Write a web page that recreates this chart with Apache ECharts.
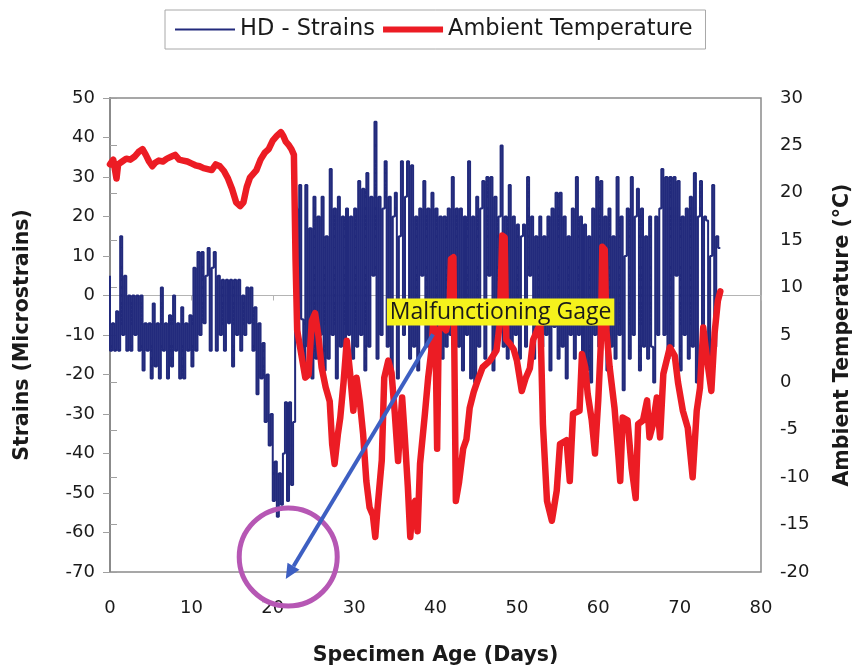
<!DOCTYPE html>
<html>
<head>
<meta charset="utf-8">
<script src="https://cdn.jsdelivr.net/npm/echarts@6/dist/echarts.min.js"></script>
<style>
  html, body { margin: 0; padding: 0; background: #fff; }
  #chart { width: 857px; height: 669px; }
</style>
</head>
<body>
<div id="chart"></div>
<script>
// HD strain gauge: one reading every 6 hours, starting at day 0 (microstrains)
const strainStartDay = 0;
const strainStepDays = 0.25;
const strainValues = [
  5, -14, -7, -14,   -4, -14, 15, -10,   5, -14, 0, -14,   0, -10, 0, -14,
  0, -19, -7, -14,   -7, -21, -2, -18,   -7, -21, 2, -14,  -7, -21, -5, -18,
  0, -14, -7, -21,   -3, -21, -7, -14,   -5, -18, 7, -14,  11, -10, 11, -7,
  5, 12, -14, 7,     11, -14, 5, -10,    4, -14, 4, -7,    4, -18, 4, -10,
  4, -14, 0, -10,    2, -7, 2, -14,      -3, -25, -7, -21, -12, -32, -20, -38,
  -30, -52, -42, -56, -45, -53, -40, -27, -52, -27, -48, -32, 22, -10, 28, -6,
  -19, 28, -13, 17,  -21, 25, -16, 20,   -10, 25, -19, 15, -16, 32, -10, 22,
  -21, 25, -13, 20,  -19, 22, -10, 20,   -16, 22, -13, 29, -10, 27, -19, 31,
  -13, 25, 5, 44,    -16, 25, -10, 22,   34, -13, 25, -19, 20, 26, -21, 15,
  34, -10, 25, 34,   -16, 33, -13, 20,   -19, 22, 5, 29,   -13, 22, -16, 26,
  -10, 22, -19, 20,  -16, 20, -13, 22,   -10, 30, -16, 22, -13, 22, -19, 20,
  -10, 34, -21, 20,  -22, 25, -13, 22,   29, -16, 30, 5,   30, -19, 25, -10,
  20, 38, -13, 20,   -16, 28, -13, 20,   -10, 18, -16, 15, 18, -13, 30, 5,
  20, -16, 15, -10,  20, -13, 15, -10,   20, -19, 22, -8,  26, -16, 26, -13,
  20, -21, 15, -10,  22, -16, 30, -10,   20, -16, 18, -19, 15, -22, 22, -10,
  30, -13, 29, 5,    20, -19, 22, -13,   15, -16, 30, -10, 20, -24, 10, 22,
  -16, 30, -10, 20,  27, -19, 22, -13,   15, -16, 20, -13, -22, 20, -10, 22,
  32, -10, 30, -16,  30, -13, 30, 5,     29, -19, 20, -10, 22, -16, 25, -13,
  31, -22, 20, 29,   -16, 20, 19, -19,   10, 28, -13, 15,  12
];

// Ambient temperature readings: [day, °C]
const ambientTemp = [
  [0,23.0],[0.4,23.5],[0.8,21.5],[1.0,23.0],[1.5,23.3],[2.0,23.6],[2.5,23.5],[3.0,23.8],
  [3.5,24.3],[4.0,24.6],[4.4,24.0],[4.8,23.3],[5.2,22.8],[5.6,23.2],[6.0,23.4],[6.5,23.3],
  [7.0,23.6],[7.5,23.8],[8.0,24.0],[8.5,23.5],[9.0,23.4],[9.5,23.3],[10,23.1],[10.5,22.9],
  [11,22.8],[11.5,22.6],[12,22.5],[12.5,22.4],[13,23.0],[13.5,22.8],[14,22.3],[14.5,21.5],
  [15,20.4],[15.5,19.0],[16,18.6],[16.4,19.0],[16.8,20.6],[17.2,21.6],[17.6,22.0],[18,22.4],
  [18.5,23.5],[19,24.2],[19.5,24.6],[20,25.5],[20.5,26.0],[21,26.4],[21.3,26.0],[21.6,25.4],
  [22,25.0],[22.3,24.6],[22.6,24.0],[22.8,13.0],[23,5.5],[23.3,4.0],[23.7,2.0],[24,0.5],
  [24.4,0.8],[24.8,6.5],[25.2,7.3],[25.6,5.0],[26,1.6],[26.5,-0.5],[27,-2.0],[27.3,-6.5],
  [27.6,-8.6],[28,-5.5],[28.3,-3.7],[28.7,0],[29.1,4.4],[29.5,1.0],[29.9,-3.0],[30.3,0.5],
  [30.7,-2.0],[31.1,-5.4],[31.5,-10.4],[31.9,-13.2],[32.3,-14.0],[32.6,-16.3],[32.9,-13.0],[33.4,-8.2],
  [33.7,0.5],[34.2,2.3],[34.6,1.0],[35,-3.3],[35.4,-8.3],[35.9,-1.6],[36.2,-5.4],[36.6,-11.0],
  [36.9,-16.3],[37.2,-13.0],[37.5,-12.5],[37.8,-15.7],[38.1,-8.6],[38.7,-3.3],[39.1,0.5],[39.5,3.4],
  [39.7,6.2],[40,5.0],[40.2,-7.0],[40.4,5.5],[40.8,6.0],[41.3,5.5],[41.7,7.0],[41.9,13.0],
  [42.2,13.2],[42.5,-12.5],[42.9,-10.5],[43.4,-7.0],[43.8,-6.0],[44.2,-2.7],[44.7,-1.0],[45.1,0],
  [45.8,1.6],[46.7,2.3],[47.5,3.4],[47.9,6.2],[48.2,15.5],[48.5,15.3],[48.7,4.5],[49.2,4.0],
  [49.6,3.5],[50,2.3],[50.6,-0.9],[51.1,0.5],[51.6,1.5],[52,4.5],[52.5,5.5],[52.9,6.2],
  [53.2,-4.4],[53.7,-12.5],[54.3,-14.6],[54.6,-13.0],[54.9,-11.4],[55.3,-6.5],[56.1,-6.1],[56.5,-10.4],
  [56.9,-3.3],[57.7,-3.0],[58,3.0],[58.4,1.6],[58.7,-1.2],[59.2,-4.0],[59.6,-7.5],[60,-1.9],
  [60.3,3.7],[60.5,14.3],[60.8,14.0],[61,5.5],[61.4,1.6],[62,-2.7],[62.5,-8.0],[62.7,-10.4],
  [63,-3.7],[63.6,-4.0],[64.1,-9.0],[64.6,-12.2],[64.9,-4.4],[65.5,-4.0],[66,-1.9],[66.3,-5.8],
  [66.7,-4.5],[67.2,-1.6],[67.6,-5.8],[68,0.9],[68.8,3.7],[69.4,2.8],[69.8,0],[70.4,-3.0],
  [71,-4.8],[71.6,-10.0],[72.1,-3.0],[72.5,-0.6],[72.9,5.8],[73.5,1.6],[73.9,-0.9],[74.3,5.2],
  [74.7,8.6],[75,9.6]
];

// Axis ranges
const dayAxis = { min: 0, max: 80, step: 10 };
const strainAxis = { min: -70, max: 50, step: 10 };
const tempAxis = { min: -20, max: 30, step: 5 };

// Callout marking the faulty gauge (data coordinates on day / strain axes)
const noteText = 'Malfunctioning Gage';
const noteAt = [48.0, -4.2];
const arrowFrom = [39.7, -9.8];
const arrowTo = [21.6, -71.8];
const ringCenter = [21.9, -66.2];

const strainSeries = strainValues.map((v, i) => [strainStartDay + i * strainStepDays, v]);

const tickFont = { fontFamily: 'DejaVu Sans', fontSize: 18, color: '#1a1a1a' };
const titleFont = { fontFamily: 'DejaVu Sans', fontSize: 20.5, fontWeight: 'bold', color: '#1a1a1a' };
const frameColor = '#8a8a8a';
const strainColor = '#222a7c';
const tempColor = '#ec1c24';

const chart = echarts.init(document.getElementById('chart'), null, { renderer: 'canvas' });

chart.setOption({
  animation: false,
  backgroundColor: '#fff',
  grid: {
    left: 110, right: 96, top: 98, bottom: 97,
    outerBoundsMode: 'none',
    containLabel: false,
    show: true, borderColor: frameColor, borderWidth: 1.5, backgroundColor: 'transparent'
  },
  legend: {
    left: 165, top: 10,
    padding: [8, 13, 8, 10],
    itemGap: 8,
    itemWidth: 60,
    itemHeight: 14,
    borderColor: '#a8a8a8', borderWidth: 1,
    textStyle: { fontFamily: 'DejaVu Sans', fontSize: 22.5, color: '#1a1a1a' },
    data: [
      { name: 'HD - Strains', icon: 'path://M0,0H60V2H0Z' },
      { name: 'Ambient Temperature', icon: 'path://M0,0H60V6H0Z' }
    ]
  },
  xAxis: [
    {
      type: 'value', min: dayAxis.min, max: dayAxis.max, interval: dayAxis.step,
      position: 'bottom',
      name: 'Specimen Age (Days)', nameLocation: 'middle', nameGap: 73, nameTextStyle: titleFont,
      axisLine: { show: false, onZero: false },
      axisTick: { show: false },
      axisLabel: Object.assign({ margin: 27 }, tickFont),
      splitLine: { show: false }
    },
    {
      type: 'value', min: dayAxis.min, max: dayAxis.max, interval: dayAxis.step,
      position: 'top',
      axisLine: { show: true, onZero: true, onZeroAxisIndex: 0, lineStyle: { color: '#b4b4b4', width: 1.2 } },
      axisTick: { show: true, inside: true, length: 5, lineStyle: { color: '#b4b4b4' } },
      axisLabel: { show: false },
      splitLine: { show: false }
    }
  ],
  yAxis: [
    {
      type: 'value', min: strainAxis.min, max: strainAxis.max, interval: strainAxis.step,
      position: 'left',
      name: 'Strains (Microstrains)', nameLocation: 'middle', nameGap: 77, nameRotate: 90,
      nameTextStyle: titleFont,
      axisLine: { show: true, lineStyle: { color: frameColor, width: 1.5 } },
      axisTick: { show: true, length: 7, lineStyle: { color: '#a0a0a0' } },
      axisLabel: Object.assign({ margin: 15 }, tickFont),
      splitLine: { show: false }
    },
    {
      type: 'value', min: tempAxis.min, max: tempAxis.max, interval: tempAxis.step,
      position: 'right',
      name: 'Ambient Temperature (°C)', nameLocation: 'middle', nameGap: 71, nameRotate: 90,
      nameTextStyle: titleFont,
      axisLine: { show: true, lineStyle: { color: frameColor, width: 1.5 } },
      axisTick: { show: true, length: 7, lineStyle: { color: '#a0a0a0' } },
      axisLabel: Object.assign({ margin: 19 }, tickFont),
      splitLine: { show: false }
    }
  ],
  series: [
    {
      name: 'HD - Strains', type: 'line', xAxisIndex: 0, yAxisIndex: 0,
      data: strainSeries, symbol: 'none', step: 'start',
      lineStyle: { color: strainColor, width: 2 },
      itemStyle: { color: strainColor },
      z: 2
    },
    {
      name: 'Ambient Temperature', type: 'line', xAxisIndex: 0, yAxisIndex: 1,
      data: ambientTemp, symbol: 'none', smooth: false,
      lineStyle: { color: tempColor, width: 6.5, join: 'round', cap: 'round' },
      itemStyle: { color: tempColor },
      z: 3
    }
  ]
});

// Callout: yellow label, arrow and ring around the faulty readings
function drawCallout() {
  const toPx = (pt) => chart.convertToPixel({ xAxisIndex: 0, yAxisIndex: 0 }, pt);
  const ring = toPx(ringCenter);
  const a0 = toPx(arrowFrom);
  const a1 = toPx(arrowTo);
  const label = toPx(noteAt);
  const ang = Math.atan2(a1[1] - a0[1], a1[0] - a0[0]);
  const headLen = 15, headHalf = 7;
  const base = [a1[0] - headLen * Math.cos(ang), a1[1] - headLen * Math.sin(ang)];
  const p1 = [base[0] + headHalf * Math.sin(ang), base[1] - headHalf * Math.cos(ang)];
  const p2 = [base[0] - headHalf * Math.sin(ang), base[1] + headHalf * Math.cos(ang)];
  chart.setOption({
    graphic: [
      { type: 'circle', z: 100, shape: { cx: ring[0], cy: ring[1], r: 49 },
        style: { fill: 'none', stroke: '#b657b4', lineWidth: 5 } },
      { type: 'line', z: 101, shape: { x1: a0[0], y1: a0[1], x2: base[0], y2: base[1] },
        style: { stroke: '#3d5fc2', lineWidth: 4 } },
      { type: 'polygon', z: 101, shape: { points: [a1, p1, p2] },
        style: { fill: '#3d5fc2' } },
      { type: 'text', z: 102, x: label[0], y: label[1],
        style: { text: noteText, font: '23px "Open Sans"', lineHeight: 26, fill: '#1a1a1a',
                 align: 'center', verticalAlign: 'middle',
                 backgroundColor: '#f5f21c', padding: [1, 3, 0, 3] } }
    ]
  });
}
drawCallout();
</script>
</body>
</html>
